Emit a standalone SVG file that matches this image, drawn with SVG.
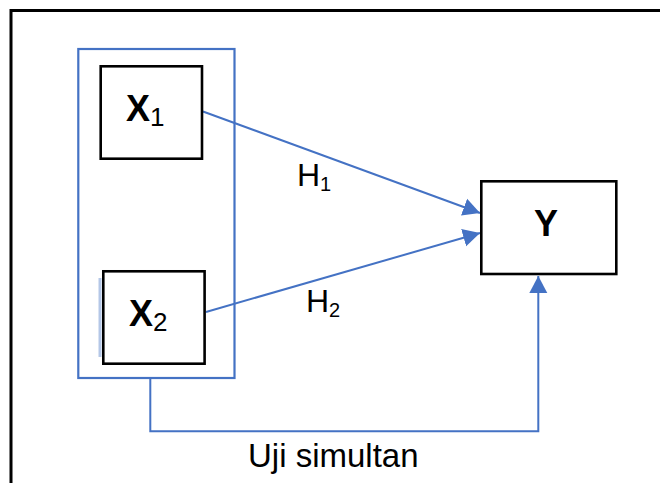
<svg xmlns="http://www.w3.org/2000/svg" width="660" height="483" viewBox="0 0 660 483">
<defs>
<style>
.frame{fill:none;stroke:#000;stroke-width:3}
.box{fill:#fff;stroke:#000;stroke-width:2.6}
.grp{fill:none;stroke:#4472c4;stroke-width:2.2}
.con{fill:none;stroke:#4472c4;stroke-width:2}
.lbl{font-family:"Liberation Sans",Arial,sans-serif;fill:#000}
.nb{font-weight:bold;font-size:36px}
.hl{font-size:32px}
</style>
<marker id="ah" markerUnits="userSpaceOnUse" markerWidth="18" markerHeight="20" viewBox="0 0 18 20" refX="17" refY="10" orient="auto">
<path d="M0,1 L17,10 L0,19 Z" fill="#4472c4"/>
</marker>
</defs>
<rect width="660" height="483" fill="#fff"/>
<path class="frame" d="M11,483 V10.5 H660"/>
<g id="group">
<rect class="grp" x="78.3" y="49" width="156.2" height="329"/>
<line x1="100" y1="278" x2="100" y2="357" stroke="#b4c7e7" stroke-width="3"/>
</g>
<g id="connectors">
<line class="con" x1="203" y1="111.5" x2="480" y2="213" marker-end="url(#ah)"/>
<line class="con" x1="206" y1="312" x2="480" y2="233" marker-end="url(#ah)"/>
<path class="con" d="M150.3,378 V431.3 H538.3 V276" marker-end="url(#ah)"/>
</g>
<g id="X1">
<rect class="box" x="100.7" y="66.3" width="101.3" height="92.4"/>
<text class="lbl nb" x="126" y="121">X<tspan font-size="26" font-weight="normal" dy="5">1</tspan></text>
</g>
<g id="X2">
<rect class="box" x="103.3" y="271.3" width="101.3" height="92.4"/>
<text class="lbl nb" x="129" y="326">X<tspan font-size="26" font-weight="normal" dy="5">2</tspan></text>
</g>
<g id="Y">
<rect class="box" x="481.3" y="181.3" width="135" height="92.7"/>
<text class="lbl nb" x="546" y="236" text-anchor="middle">Y</text>
</g>
<g id="labels">
<text class="lbl hl" x="297" y="186">H<tspan font-size="20" dy="5">1</tspan></text>
<text class="lbl hl" x="306" y="311.5">H<tspan font-size="20" dy="5">2</tspan></text>
<text class="lbl" x="248" y="466.7" font-size="33">Uji simultan</text>
</g>
</svg>
